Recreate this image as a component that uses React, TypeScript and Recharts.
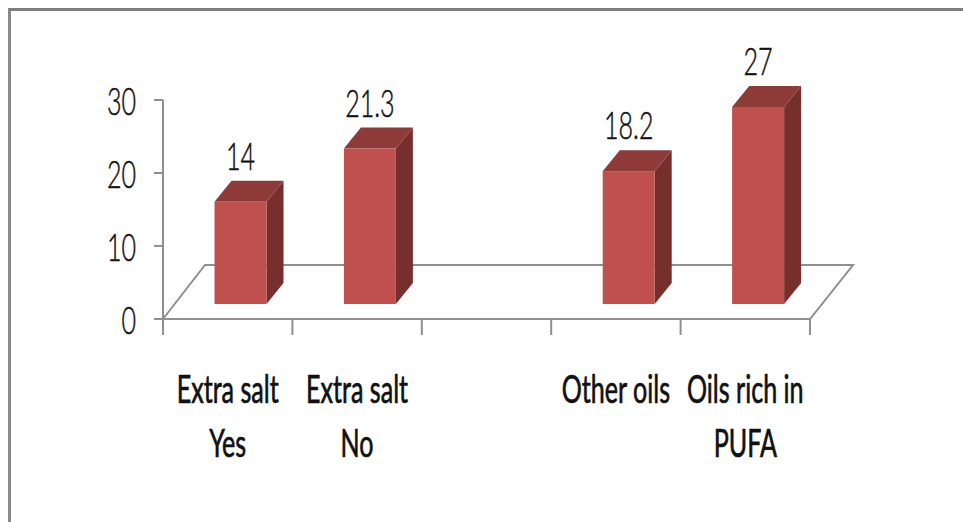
import React from "react";
import { BarChart, Bar, XAxis, YAxis, LabelList, Customized } from "recharts";

const categories = ["Extra salt|Yes", "Extra salt|No", "", "Other oils", "Oils rich in|PUFA"];
const values: (number | null)[] = [14, 21.3, null, 18.2, 27];
const yTicks = [0, 10, 20, 30];
const data = categories.map((name, i) => ({ name, value: values[i] }));

const W = 963, H = 522;
const LEFT = 163, RIGHT = 810, TOP = 100, BOTTOM = 319;
const GRAY = "#8f8f8f";
const FONT = "Lato, sans-serif";
const SX = 0.66, SY = 1.0, FS = 38;
const DX = 12.5, DY = -15, DEPTH_X = 17, DEPTH_Y = 21;

const Txt = ({ x, y, children, weight = 400, sw = 0 }: any) => (
  <text
    transform={`translate(${x},${y}) scale(${SX},${SY})`}
    textAnchor="middle"
    fontFamily={FONT}
    fontSize={FS}
    fontWeight={weight}
    fill="#111"
    stroke={sw ? "#111" : "none"}
    strokeWidth={sw}
  >
    {children}
  </text>
);

const Bar3D = ({ x, y, width, height }: any) => {
  if (!height) return null;
  const l = x + DX, t = y + DY, r = l + width, b = t + height;
  return (
    <g>
      <polygon points={`${r},${t} ${r + DEPTH_X},${t - DEPTH_Y} ${r + DEPTH_X},${b - DEPTH_Y} ${r},${b}`} fill="#772F2D" />
      <polygon points={`${l},${t} ${l + DEPTH_X},${t - DEPTH_Y} ${r + DEPTH_X},${t - DEPTH_Y} ${r},${t}`} fill="#8E3A38" />
      <rect x={l} y={t} width={width} height={height} fill="#C0504D" />
    </g>
  );
};

const ValueLabel = ({ x, y, width, value }: any) => {
  if (value == null) return null;
  return <Txt x={x + DX + width / 2} y={y + DY - 32} weight={300} sw={0.5}>{value}</Txt>;
};

const XTick = ({ x, y, index, payload }: any) => {
  const band = (RIGHT - LEFT) / categories.length;
  const lines = String(payload.value).split("|");
  return (
    <g>
      <line x1={x - band / 2} x2={x - band / 2} y1={BOTTOM} y2={BOTTOM + 16} stroke={GRAY} strokeWidth={2} />
      {index === categories.length - 1 && (
        <line x1={x + band / 2} x2={x + band / 2} y1={BOTTOM} y2={BOTTOM + 16} stroke={GRAY} strokeWidth={2} />
      )}
      {lines.map((s, i) =>
        s ? <Txt key={i} x={x} y={403 + i * 54} sw={0.7}>{s}</Txt> : null
      )}
    </g>
  );
};

const YTick = ({ y, payload }: any) => (
  <g>
    <text
      transform={`translate(136,${y + 15}) scale(${SX},${SY})`}
      textAnchor="end"
      fontFamily={FONT}
      fontSize={FS}
      fontWeight={300}
      fill="#111"
      stroke="#111"
      strokeWidth={0.5}
    >
      {payload.value}
    </text>
  </g>
);

const Floor = () => (
  <polygon
    points={`${LEFT},${BOTTOM} ${LEFT + 42},265 ${RIGHT + 43},265 ${RIGHT},${BOTTOM}`}
    fill="#fff"
    stroke={GRAY}
    strokeWidth={2}
  />
);

export default function App() {
  return (
    <div style={{ position: "absolute", left: 0, top: 0, width: W, height: H, overflow: "hidden", background: "#fff" }}>
      <div style={{ position: "absolute", left: 8, top: 8, right: 0, bottom: 0, borderTop: "3px solid #7f7f7f", borderLeft: "3px solid #8a8a8a" }} />
      <div style={{ position: "absolute", left: 0, top: 0 }}>
        <BarChart
          width={W}
          height={H}
          data={data}
          barSize={52}
          margin={{ top: TOP, right: W - RIGHT, left: LEFT - 60, bottom: H - BOTTOM - 150 }}
        >
          <Customized component={Floor} />
          <XAxis dataKey="name" height={150} axisLine={false} tickLine={false} tick={<XTick />} interval={0} />
          <YAxis
            width={60}
            domain={[0, 30]}
            ticks={yTicks}
            axisLine={{ stroke: GRAY, strokeWidth: 2 }}
            tickLine={{ stroke: GRAY, strokeWidth: 2 }}
            tickSize={9}
            tick={<YTick />}
          />
          <Bar dataKey="value" isAnimationActive={false} shape={<Bar3D />}>
            <LabelList dataKey="value" content={<ValueLabel />} />
          </Bar>
        </BarChart>
      </div>
    </div>
  );
}
